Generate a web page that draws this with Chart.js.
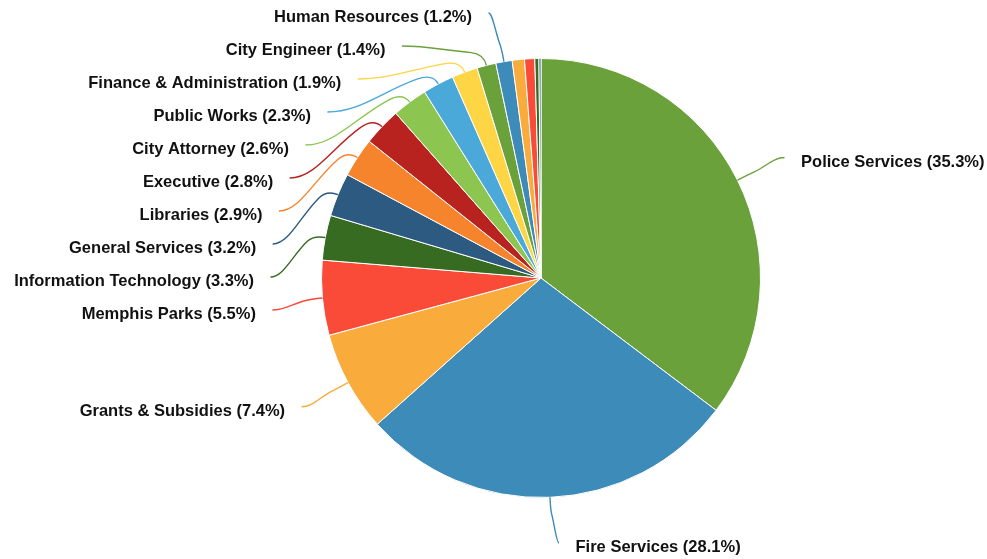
<!DOCTYPE html>
<html>
<head>
<meta charset="utf-8">
<script src="https://cdn.jsdelivr.net/npm/chart.js@4.4.1/dist/chart.umd.min.js"></script>
<style>
  html, body { margin: 0; padding: 0; background: #fff; }
  #wrap { width: 987px; height: 559px; }
</style>
</head>
<body>
<div id="wrap"><canvas id="pieChart" width="987" height="559"></canvas></div>
<script>
// budget share by division, percent of total
const divisions = [
  "Police Services", "Fire Services", "Grants & Subsidies", "Memphis Parks",
  "Information Technology", "General Services", "Libraries", "Executive",
  "City Attorney", "Public Works", "Finance & Administration", "City Engineer",
  "Human Resources", "Housing & Community Development", "City Council",
  "City Court Clerk", "City Court Judges"
];
const shares = [35.3, 28.1, 7.4, 5.5, 3.3, 3.2, 2.9, 2.8, 2.6, 2.3, 1.9, 1.4, 1.2, 0.9, 0.75, 0.3, 0.15];

const palette = [
  "#6aa13b", "#3d8bb8", "#f9ab3b", "#fa4b39", "#366b21", "#2c5a81",
  "#f5842c", "#b8221f", "#8cc650", "#4ba9d9", "#fdd545"
];

const LABEL_GAP = 33;     // vertical distance between stacked labels
const LABEL_OFFSET = 51;  // label ring distance from pie edge
const FONT = 'bold 16.5px "Liberation Sans", Arial, Helvetica, sans-serif';

const outerLabels = {
  id: 'outerLabels',
  afterDatasetsDraw(chart) {
    const ctx = chart.ctx;
    const meta = chart.getDatasetMeta(0);
    const values = chart.data.datasets[0].data;
    const total = values.reduce((a, b) => a + b, 0);
    const items = [];

    meta.data.forEach((arc, i) => {
      const pct = values[i] / total * 100;
      if (pct < 1) return;
      const a = (arc.startAngle + arc.endAngle) / 2;
      const R = arc.outerRadius + LABEL_OFFSET;
      items.push({
        i, cos: Math.cos(a), sin: Math.sin(a),
        cx: arc.x, cy: arc.y, r: arc.outerRadius, R,
        right: Math.cos(a) >= 0,
        ideal: arc.y + Math.sin(a) * R,
        text: chart.data.labels[i] + ' (' + pct.toFixed(1) + '%)',
        color: palette[i % palette.length]
      });
    });

    const minY = 13, maxY = chart.height - 16;
    [true, false].forEach(side => {
      const list = items.filter(d => d.right === side).sort((p, q) => p.ideal - q.ideal);
      let prev = -Infinity;
      list.forEach(d => {
        d.pushed = prev + LABEL_GAP > d.ideal;
        d.y = Math.max(d.ideal, minY, prev + LABEL_GAP);
        prev = d.y;
      });
      let next = Infinity;
      for (let k = list.length - 1; k >= 0; k--) {
        const d = list[k];
        d.y = Math.min(d.y, maxY, next - LABEL_GAP);
        next = d.y;
      }
    });

    ctx.save();
    ctx.font = FONT;
    ctx.textBaseline = 'middle';
    items.forEach(d => {
      const s = d.right ? 1 : -1;
      let ex;
      if (d.pushed) {
        const dy = d.y - d.cy;
        ex = d.cx + s * Math.sqrt(Math.max(d.R * d.R - dy * dy, 0));
      } else {
        // labels near top/bottom sit a little further out sideways
        ex = d.cx + d.cos * d.R + s * 7 * d.sin * d.sin;
      }
      const ey = d.y;
      const p0 = { x: d.cx + d.cos * d.r, y: d.cy + d.sin * d.r };
      const p1 = { x: d.cx + d.cos * (d.r + 12), y: d.cy + d.sin * (d.r + 12) };
      const vx = ex - p1.x, vy = ey - p1.y;
      const m = { x: p1.x + vx * 0.15, y: p1.y + vy * 0.15 };

      ctx.beginPath();
      ctx.moveTo(p0.x, p0.y);
      ctx.quadraticCurveTo(p1.x, p1.y, m.x, m.y);
      ctx.bezierCurveTo(m.x + vx * 0.35, m.y + vy * 0.35,
                        ex - s * Math.abs(vx) * 0.3, ey, ex, ey);
      ctx.strokeStyle = d.color;
      ctx.lineWidth = 1.4;
      ctx.stroke();

      ctx.fillStyle = '#111';
      ctx.textAlign = d.right ? 'left' : 'right';
      ctx.fillText(d.text, ex + s * 16.5, ey + 4.5);
    });
    ctx.restore();
  }
};

new Chart(document.getElementById('pieChart'), {
  type: 'pie',
  data: {
    labels: divisions,
    datasets: [{
      data: shares,
      backgroundColor: divisions.map((_, i) => palette[i % palette.length]),
      borderColor: '#ffffff',
      borderWidth: 1
    }]
  },
  options: {
    responsive: false,
    animation: false,
    layout: { padding: { left: 321, right: 226, top: 58, bottom: 61 } },
    plugins: {
      legend: { display: false },
      tooltip: { enabled: false }
    }
  },
  plugins: [outerLabels]
});
</script>
</body>
</html>
